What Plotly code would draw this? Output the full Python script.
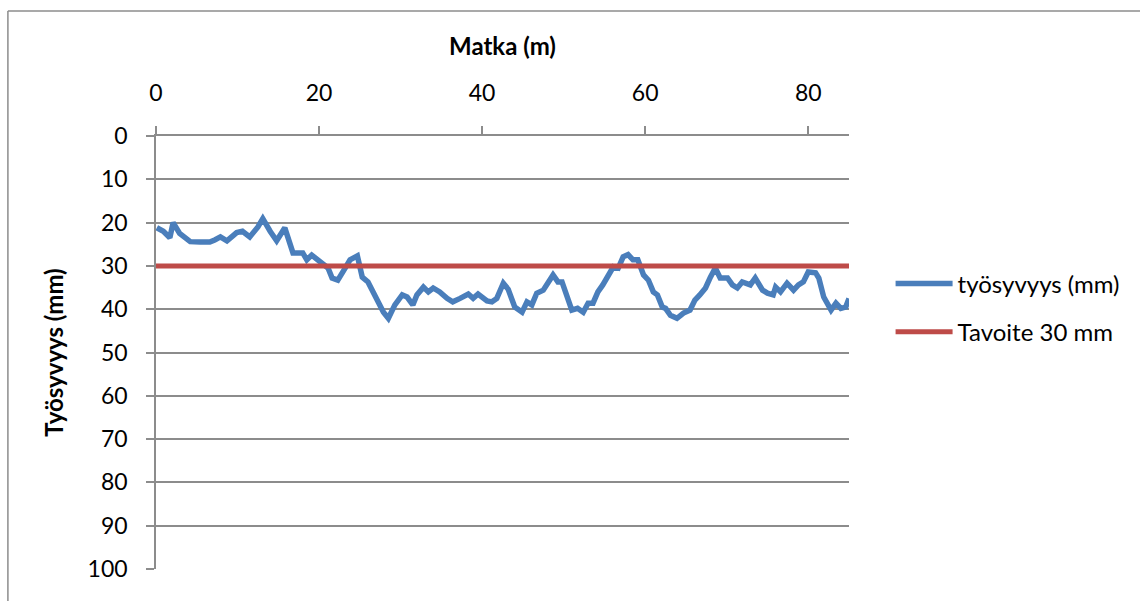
import plotly.graph_objects as go

# Distance along the track (m)
matka = [0.1, 0.9, 1.7, 2.1, 2.9, 4.2, 5.4, 6.6, 7.2, 7.9, 8.7, 9.9, 10.6, 11.5, 12.5, 13.1,
         14.0, 14.8, 15.8, 16.8, 18.0, 18.5, 19.1, 19.8, 20.5, 21.1, 21.6, 22.3, 23.2, 23.8,
         24.7, 25.3, 26.0, 26.9, 27.9, 28.5, 29.3, 30.2, 30.8, 31.5, 32.0, 32.8, 33.4, 34.0,
         34.8, 35.7, 36.4, 37.3, 38.3, 38.9, 39.5, 40.6, 41.2, 41.8, 42.6, 43.2, 44.0, 44.9,
         45.5, 46.1, 46.7, 47.5, 48.0, 48.7, 49.3, 49.8, 51.0, 51.7, 52.4, 53.0, 53.6, 54.2,
         54.8, 55.7, 56.1, 56.7, 57.3, 57.9, 58.5, 59.1, 59.8, 60.4, 61.0, 61.5, 62.1, 62.5,
         63.1, 63.9, 64.7, 65.5, 66.1, 66.7, 67.4, 68.0, 68.6, 69.2, 70.1, 70.7, 71.3, 71.9,
         72.5, 72.9, 73.5, 74.4, 75.0, 75.7, 76.0, 76.6, 77.4, 78.2, 78.8, 79.4, 80.0, 80.9,
         81.3, 81.9, 82.8, 83.4, 84.0, 84.6, 85.0]

# Working depth (mm)
tyosyvyys = [21.2, 22.0, 23.5, 20.0, 22.5, 24.4, 24.5, 24.5, 24.0, 23.3, 24.2, 22.3, 22.0, 23.3,
             21.0, 19.1, 22.0, 24.2, 21.2, 27.0, 27.0, 28.6, 27.5, 28.6, 29.3, 30.5, 32.8, 33.3,
             30.5, 28.6, 27.7, 32.6, 33.7, 37.0, 40.7, 42.1, 39.0, 36.7, 37.2, 39.0, 36.7, 34.9,
             36.0, 35.1, 36.0, 37.5, 38.3, 37.5, 36.5, 37.5, 36.5, 38.1, 38.3, 37.5, 34.0, 35.4,
             39.5, 40.7, 38.3, 39.0, 36.3, 35.6, 34.0, 32.1, 33.7, 33.7, 40.2, 39.8, 40.7, 38.6,
             38.6, 36.0, 34.4, 31.6, 30.2, 30.5, 27.9, 27.4, 28.6, 28.6, 32.1, 33.3, 36.0, 36.7,
             39.5, 39.8, 41.4, 42.1, 40.9, 40.2, 37.9, 36.7, 35.1, 32.6, 30.5, 32.8, 32.8, 34.4,
             35.1, 33.7, 34.0, 34.4, 32.8, 35.6, 36.3, 36.7, 34.9, 36.0, 34.0, 35.6, 34.4, 33.7,
             31.4, 31.6, 32.8, 37.2, 40.2, 38.6, 39.8, 39.5, 37.5]

tavoite_x = [0, 85]
tavoite = [30, 30]

x_ticks = [0, 20, 40, 60, 80]
y_ticks = [0, 10, 20, 30, 40, 50, 60, 70, 80, 90, 100]

FONT = "Lato"
GRID = "#8c8c8c"

fig = go.Figure()
fig.add_trace(go.Scatter(x=matka, y=tyosyvyys, mode="lines", name="työsyvyys (mm)",
                         legendgroup="a",
                         line=dict(color="#4A7EBB", width=5.5)))
fig.add_trace(go.Scatter(x=tavoite_x, y=tavoite, mode="lines", name="Tavoite 30 mm",
                         legendgroup="b",
                         line=dict(color="#BE4B48", width=5)))

fig.update_layout(
    width=1140, height=601,
    margin=dict(l=156, r=291, t=136, b=32),
    paper_bgcolor="white", plot_bgcolor="white",
    font=dict(family=FONT, size=23, color="black"),
    showlegend=True,
    legend=dict(x=1.06, y=0.603, xanchor="left", yanchor="middle",
                font=dict(family=FONT, size=24), tracegroupgap=14,
                itemwidth=57, bgcolor="rgba(0,0,0,0)"),
    xaxis=dict(
        side="top", range=[0, 85], tickvals=x_ticks, showgrid=False, zeroline=False,
        showline=True, linecolor=GRID, linewidth=1.5,
        ticks="outside", ticklen=8, tickcolor=GRID, tickwidth=1.5,
        ticklabelstandoff=16,
        title=dict(text="<b>Matka (m)</b>", font=dict(family=FONT, size=24), standoff=16),
    ),
    yaxis=dict(
        range=[100, 0], tickvals=y_ticks, showgrid=True, gridcolor=GRID, gridwidth=1.5,
        zeroline=False, showline=True, linecolor=GRID, linewidth=1.5,
        ticks="outside", ticklen=8, tickcolor=GRID, tickwidth=1.5,
        ticklabelstandoff=14,
        title=dict(text="<b>Työsyvyys (mm)</b>", font=dict(family=FONT, size=24), standoff=17),
    ),
)

# Outer chart border (top and left edges visible)
fig.add_shape(type="line", xref="paper", yref="paper", x0=-0.2137, x1=1.5, y0=1.2887, y1=1.2887,
              line=dict(color=GRID, width=1.5))
fig.add_shape(type="line", xref="paper", yref="paper", x0=-0.2137, x1=-0.2137, y0=1.2887, y1=-0.2,
              line=dict(color=GRID, width=1.5))

fig.write_html("out.html")
